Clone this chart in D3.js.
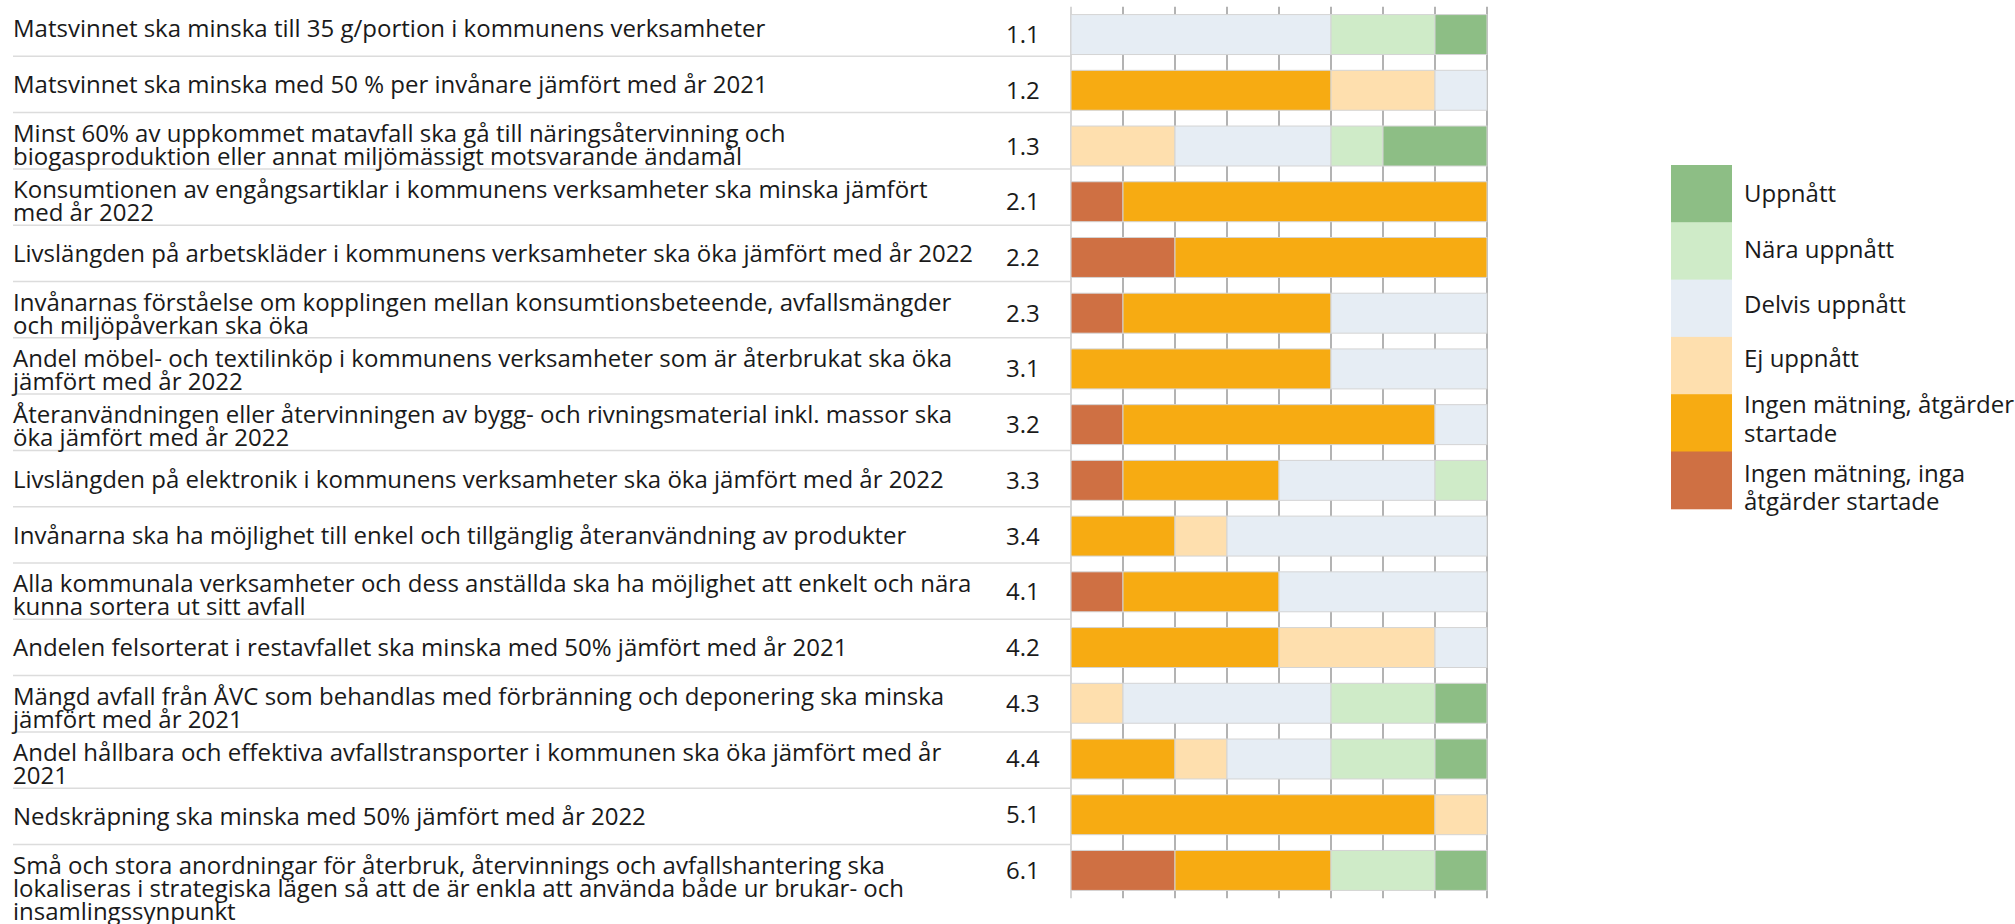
<!DOCTYPE html>
<html>
<head>
<meta charset="utf-8">
<script src="https://cdn.jsdelivr.net/npm/d3@7"></script>
<style>
  html, body { margin: 0; padding: 0; background: #fff; }
  svg { display: block; font-family: "Open Sans", sans-serif; }
</style>
</head>
<body>
<svg id="chart" width="2015" height="924"></svg>
<script>
// ---- Data ----
const ids = ["1.1","1.2","1.3","2.1","2.2","2.3","3.1","3.2","3.3","3.4","4.1","4.2","4.3","4.4","5.1","6.1"];
const labels = [
  ["Matsvinnet ska minska till 35 g/portion i kommunens verksamheter"],
  ["Matsvinnet ska minska med 50 % per invånare jämfört med år 2021"],
  ["Minst 60% av uppkommet matavfall ska gå till näringsåtervinning och", "biogasproduktion eller annat miljömässigt motsvarande ändamål"],
  ["Konsumtionen av engångsartiklar i kommunens verksamheter ska minska jämfört", "med år 2022"],
  ["Livslängden på arbetskläder i kommunens verksamheter ska öka jämfört med år 2022"],
  ["Invånarnas förståelse om kopplingen mellan konsumtionsbeteende, avfallsmängder", "och miljöpåverkan ska öka"],
  ["Andel möbel- och textilinköp i kommunens verksamheter som är återbrukat ska öka", "jämfört med år 2022"],
  ["Återanvändningen eller återvinningen av bygg- och rivningsmaterial inkl. massor ska", "öka jämfört med år 2022"],
  ["Livslängden på elektronik i kommunens verksamheter ska öka jämfört med år 2022"],
  ["Invånarna ska ha möjlighet till enkel och tillgänglig återanvändning av produkter"],
  ["Alla kommunala verksamheter och dess anställda ska ha möjlighet att enkelt och nära", "kunna sortera ut sitt avfall"],
  ["Andelen felsorterat i restavfallet ska minska med 50% jämfört med år 2021"],
  ["Mängd avfall från ÅVC som behandlas med förbränning och deponering ska minska", "jämfört med år 2021"],
  ["Andel hållbara och effektiva avfallstransporter i kommunen ska öka jämfört med år", "2021"],
  ["Nedskräpning ska minska med 50% jämfört med år 2022"],
  ["Små och stora anordningar för återbruk, återvinnings och avfallshantering ska", "lokaliseras i strategiska lägen så att de är enkla att använda både ur brukar- och", "insamlingssynpunkt"]
];
// series (left to right in each bar)
const ingaAtgarder     = [0,0,0,1,2,1,0,1,1,0,1,0,0,0,0,2];
const atgarderStartade = [0,5,0,7,6,4,5,6,3,2,3,4,0,2,7,3];
const ejUppnatt        = [0,2,2,0,0,0,0,0,0,1,0,3,1,1,1,0];
const delvisUppnatt    = [5,1,3,0,0,3,3,1,3,5,4,1,4,2,0,0];
const naraUppnatt      = [2,0,1,0,0,0,0,0,1,0,0,0,2,2,0,2];
const uppnatt          = [1,0,2,0,0,0,0,0,0,0,0,0,1,1,0,1];

const seriesKeys  = ["inga","startade","ej","delvis","nara","uppnatt"];
const seriesNames = [["Ingen mätning, inga","åtgärder startade"],["Ingen mätning, åtgärder","startade"],["Ej uppnått"],["Delvis uppnått"],["Nära uppnått"],["Uppnått"]];
const seriesColors = ["#cf7043","#f7ab12","#fedfae","#e6edf4","#cfebc8","#8dbe85"];
const xTicks = [0,1,2,3,4,5,6,7,8];

// ---- Build table ----
const rows = ids.map((id, i) => ({
  id, label: labels[i],
  inga: ingaAtgarder[i], startade: atgarderStartade[i], ej: ejUppnatt[i],
  delvis: delvisUppnatt[i], nara: naraUppnatt[i], uppnatt: uppnatt[i]
}));
const stacked = d3.stack().keys(seriesKeys)(rows);

const svg = d3.select("#chart");
const x = d3.scaleLinear().domain([0, 8]).range([1071, 1487]);
const y = d3.scaleBand().domain(ids).range([6.7, 898.3]).paddingInner(0.283).paddingOuter(0.1415);
// label table rows (uniform rows, independent of the bar band)
const yLab = d3.scaleBand().domain(ids).range([0, 900.8]);
const color = d3.scaleOrdinal().domain(seriesKeys).range(seriesColors);
const bw = y.bandwidth();

// grid lines (behind bars)
svg.append("g").selectAll("line").data(xTicks).join("line")
  .attr("x1", d => x(d)).attr("x2", d => x(d))
  .attr("y1", y.range()[0]).attr("y2", y.range()[1])
  .attr("stroke", d => d === 0 ? "#d6d6d6" : "#b3b3b3")
  .attr("stroke-width", 2);

// row separators in label area
svg.append("g").selectAll("line").data(ids.slice(1)).join("line")
  .attr("x1", 13).attr("x2", x(0) - 1)
  .attr("y1", d => yLab(d))
  .attr("y2", d => yLab(d))
  .attr("stroke", "#dcdcdc").attr("stroke-width", 1.5);

// bars
svg.append("g").selectAll("g").data(stacked).join("g")
  .attr("fill", d => color(d.key))
  .selectAll("rect").data(d => d.filter(s => s[1] - s[0] > 0)).join("rect")
  .attr("x", d => x(d[0]))
  .attr("width", d => x(d[1]) - x(d[0]))
  .attr("y", d => y(d.data.id))
  .attr("height", bw)
  .attr("stroke", "#d4d4d4").attr("stroke-width", 1);

// id labels
svg.append("g").selectAll("text").data(rows).join("text")
  .attr("x", 1006)
  .attr("y", d => y(d.id) + bw / 2 + 8.5)
  .attr("font-size", 24).attr("fill", "#1a1a1a")
  .text(d => d.id);

// descriptive labels
const lab = svg.append("g").selectAll("text").data(rows).join("text")
  .attr("font-size", 24).attr("fill", "#1a1a1a")
  .attr("transform", d => {
    const c = yLab(d.id) + yLab.bandwidth() / 2;
    const base = d.label.length === 1 ? c + 9 : c + 1;
    return `translate(13,${base})`;
  });
lab.selectAll("tspan").data(d => d.label).join("tspan")
  .attr("x", 0).attr("dy", (d, i) => i === 0 ? 0 : 23)
  .text(d => d);

// legend
const legendOrder = d3.range(seriesKeys.length).reverse();
const legendDy = [8, 7.5, 5, 1.4, -9.5, 1.5];
const swH = 57.3, swW = 61, lx = 1671, ly = 165;
const lg = svg.append("g");
lg.selectAll("rect").data(legendOrder).join("rect")
  .attr("x", lx).attr("y", (d, i) => ly + i * swH)
  .attr("width", swW).attr("height", swH + 0.5)
  .attr("fill", d => seriesColors[d]);
const lt = lg.selectAll("text").data(legendOrder).join("text")
  .attr("font-size", 24).attr("fill", "#1a1a1a")
  .attr("transform", (d, i) => {
    const c = ly + i * swH + swH / 2;
    return `translate(${lx + 73},${c + legendDy[i]})`;
  });
lt.selectAll("tspan").data(d => seriesNames[d]).join("tspan")
  .attr("x", 0).attr("dy", (d, i) => i === 0 ? 0 : 28.5)
  .text(d => d);
</script>
</body>
</html>
